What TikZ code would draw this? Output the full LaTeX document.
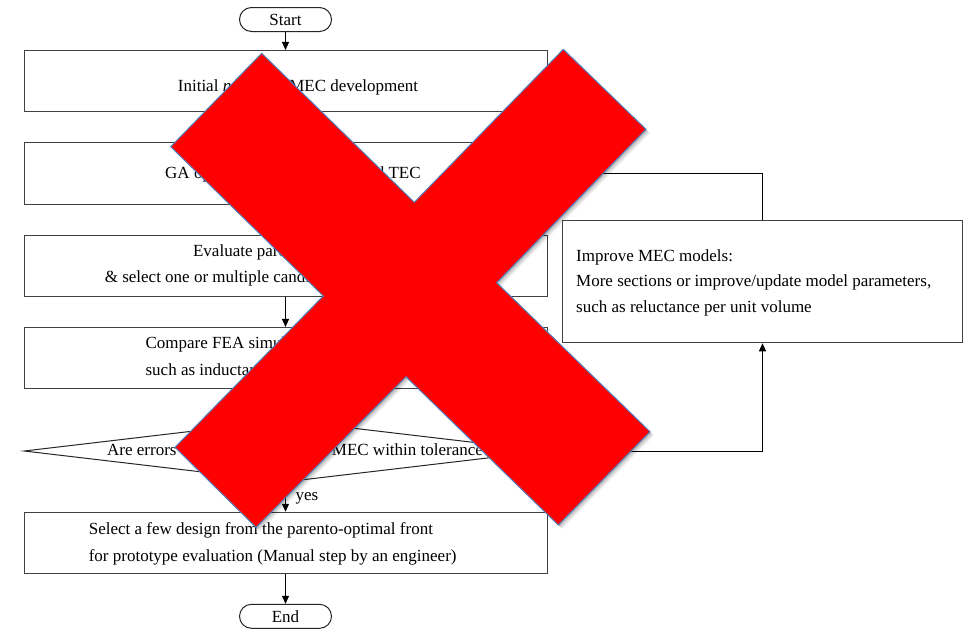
\documentclass[tikz,border=0pt]{standalone}
\usepackage{fontspec}
\setmainfont{Liberation Serif}
\usetikzlibrary{shapes.geometric,arrows.meta}
\definecolor{xblue}{RGB}{79,129,189}
\definecolor{xred}{RGB}{255,0,0}
\begin{document}
\begin{tikzpicture}[x=1pt,y=-1pt,
  box/.style={draw=black!75,line width=1pt,minimum width=523pt,minimum height=61.5pt,inner sep=0pt},
  term/.style={draw=black!85,line width=1pt,rounded corners=12pt,minimum width=92pt,minimum height=24pt,inner sep=0pt,font=\fontsize{17}{20}\selectfont},
  txt/.style={font=\fontsize{17}{26}\selectfont,inner sep=0pt,anchor=west,text height=13pt,text depth=3pt},
  arr/.style={draw=black,line width=1pt,-{Triangle[length=8pt,width=7pt]}},
  dia/.style={draw=black!85,line width=1pt,shape=diamond,minimum width=523pt,minimum height=62pt,inner sep=0pt},
]
\useasboundingbox (0,0) rectangle (971,630);
\fill[white] (0,0) rectangle (971,630);

% terminals
\node[term] (start) at (285.5,19.5) {Start};
\node[term] (end) at (285.5,616.3) {End};

% boxes
\node[box] (b1) at (285.5,81.2) {};
\node[box] (b2) at (285.5,173.5) {};
\node[box] (b3) at (285.5,266) {};
\node[box] (b4) at (285.5,358.2) {};
\node[dia] (d) at (285.5,451) {};
\node[box] (b5) at (285.5,543) {};
\node[draw=black!75,line width=1pt,minimum width=399.6pt,minimum height=122.7pt,inner sep=0pt] (imp) at (762.5,281.4) {};

% texts
\node[txt] (t1) at (177.7,86.7) {Initial \textit{n}-section MEC development};
\node[txt] (t2) at (165,173) {GA optimization with MEC and TEC};
\node[txt] (t3a) at (192.9,251.7) {Evaluate parento-optimal front};
\node[txt] (t3b) at (104.6,277.7) {\& select one or multiple candidates for FEA simulation};
\node[txt] (t4a) at (145.4,343.3) {Compare FEA simulation with MEC results};
\node[txt] (t4b) at (145.4,370) {such as inductance and torque};
\node[txt] (td) at (107,450.7) {Are errors between FEA and the MEC within tolerance?};
\node[txt] (t5a) at (88.6,529.3) {Select a few design from the parento-optimal front};
\node[txt] (t5b) at (88.6,556) {for prototype evaluation (Manual step by an engineer)};
\node[txt] (ti1) at (576,256) {Improve MEC models:};
\node[txt] (ti2) at (576,281.5) {More sections or improve/update model parameters,};
\node[txt] (ti3) at (576,307) {such as reluctance per unit volume};

% connectors
\draw[arr] (start) -- (b1);
\draw[arr] (b1) -- (b2);
\draw[arr] (b2) -- (b3);
\draw[arr] (b3) -- (b4);
\draw[arr] (b4) -- (d);
\draw[arr] (d) -- node[txt,pos=0.45,xshift=9.5pt] (yes) {yes} (b5);
\draw[arr] (b5) -- (end);
\draw[arr] (d.east) -| (imp.south);
\draw[arr] (imp.north) |- (b2.east);

% red X with shadow
\foreach \d/\o in {4/0.05,3/0.07,2/0.09,1/0.1}{
  \fill[black,opacity=\o,shift={(\d,\d)}] (261.7,53.3) -- (414.3,202.3) -- (563.3,49.3) -- (646,129.3) -- (496.7,282.7) -- (650,431.7) -- (558.3,525) -- (406,376.7) -- (256,527.3) -- (175,447.3) -- (323.3,296) -- (170.7,146.7) -- cycle;
}
\filldraw[fill=xred,draw=xblue,line width=1pt,line join=miter] (261.7,53.3) -- (414.3,202.3) -- (563.3,49.3) -- (646,129.3) -- (496.7,282.7) -- (650,431.7) -- (558.3,525) -- (406,376.7) -- (256,527.3) -- (175,447.3) -- (323.3,296) -- (170.7,146.7) -- cycle;
\end{tikzpicture}
\end{document}
